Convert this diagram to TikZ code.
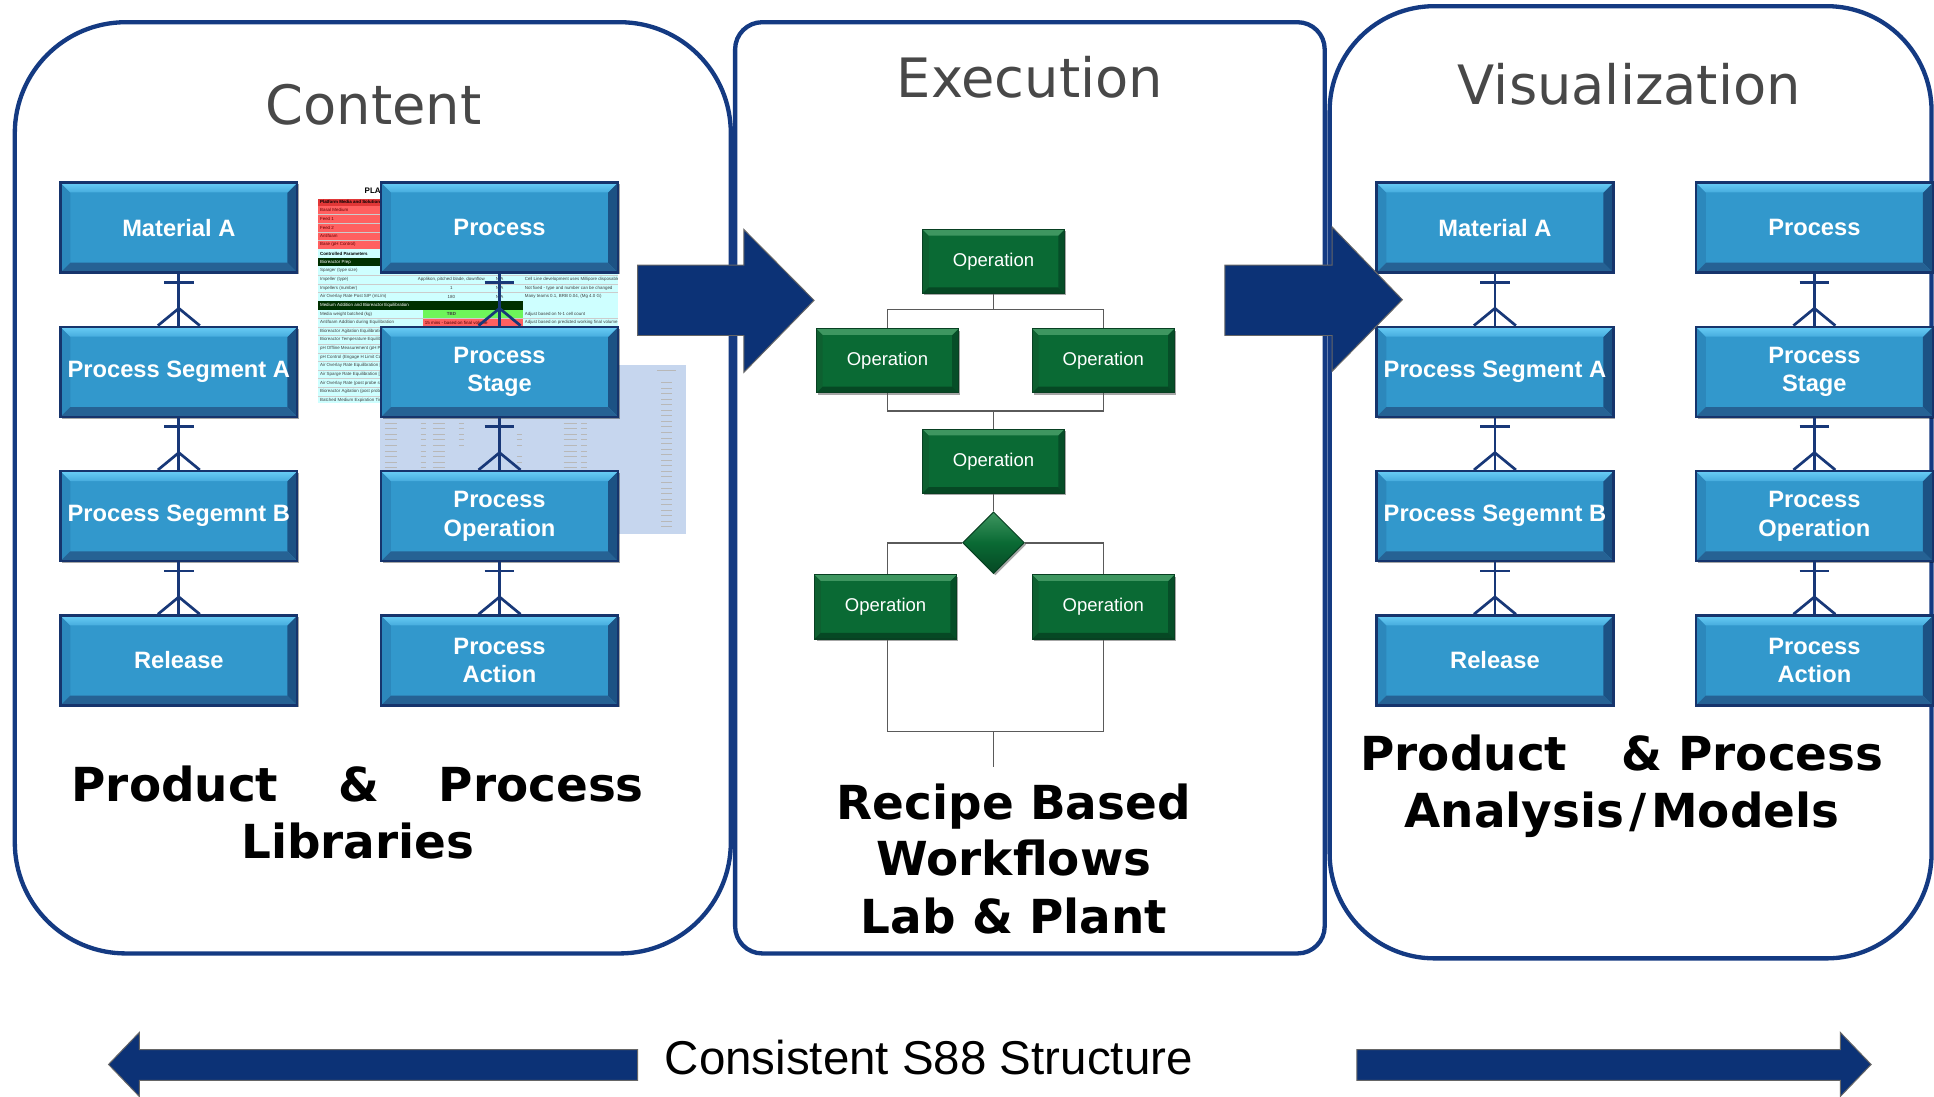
\documentclass[tikz,border=0pt]{standalone}
\usepackage{fontspec}
\newfontfamily\dvs{DejaVu Sans}
\newfontfamily\lib{Liberation Sans}
\usetikzlibrary{shapes.geometric,shadows,calc}
\definecolor{panelnavy}{RGB}{20,58,130}
\definecolor{arrownavy}{RGB}{12,50,118}
\definecolor{titlegray}{RGB}{72,72,72}
\definecolor{bmid}{RGB}{50,152,204}
\definecolor{btopa}{RGB}{105,205,245}
\definecolor{btopb}{RGB}{70,172,222}
\definecolor{bbot}{RGB}{38,98,148}
\definecolor{bleft}{RGB}{44,136,188}
\definecolor{bright}{RGB}{28,82,132}
\definecolor{bedge}{RGB}{22,52,108}
\definecolor{gmid}{RGB}{10,106,52}
\definecolor{gtop}{RGB}{62,150,96}
\definecolor{gbot}{RGB}{6,72,36}
\definecolor{gleft}{RGB}{14,96,48}
\definecolor{gright}{RGB}{6,78,40}
\definecolor{gedge}{RGB}{8,64,34}
\definecolor{connectgray}{RGB}{90,90,90}
\definecolor{ernavy}{RGB}{24,56,120}
\definecolor{shred}{RGB}{255,96,96}
\definecolor{shredh}{RGB}{225,55,55}
\definecolor{shcyan}{RGB}{206,255,255}
\definecolor{shdg}{RGB}{0,48,0}
\definecolor{shgreen}{RGB}{110,245,90}
\definecolor{shblue}{RGB}{198,214,238}

\newcommand\mybevel[5]{%
\path (path picture bounding box.north west) coordinate (bvNW)
      (path picture bounding box.north east) coordinate (bvNE)
      (path picture bounding box.south west) coordinate (bvSW)
      (path picture bounding box.south east) coordinate (bvSE);
\fill[#4] (bvNW) -- ([xshift=#1,yshift=-#1]bvNW) -- ([xshift=#1,yshift=#1]bvSW) -- (bvSW) -- cycle;
\fill[#5] (bvNE) -- ([xshift=-#1,yshift=-#1]bvNE) -- ([xshift=-#1,yshift=#1]bvSE) -- (bvSE) -- cycle;
\fill[#2] (bvNW) -- (bvNE) -- ([xshift=-#1,yshift=-#1]bvNE) -- ([xshift=#1,yshift=-#1]bvNW) -- cycle;
\fill[#3] (bvSW) -- (bvSE) -- ([xshift=-#1,yshift=#1]bvSE) -- ([xshift=#1,yshift=#1]bvSW) -- cycle;}

\newcommand\erlink[2]{%
\draw[erline] (#1.south) -- (#2.north);
\draw[erline] ([xshift=-12pt,yshift=-7pt]#1.south) -- ([xshift=12pt,yshift=-7pt]#1.south);
\draw[erline] ([xshift=-17pt]#2.north) -- ([yshift=14pt]#2.north) -- ([xshift=17pt]#2.north);}

\begin{document}
\begin{tikzpicture}[x=1pt,y=-1pt,
  panel/.style={draw=panelnavy,line width=3.5pt,fill=white},
  bluebox/.style={draw=bedge,line width=2pt,fill=bmid,minimum width=192pt,minimum height=73pt,
     inner sep=2pt,text=white,align=center,font=\lib\bfseries\fontsize{19.2}{23}\selectfont,
     drop shadow={shadow xshift=1.5pt,shadow yshift=-1.5pt,fill=black,opacity=0.35},
     path picture={\mybevel{8pt}{top color=btopa,bottom color=btopb}{bbot}{bleft}{bright}}},
  gbox/.style={draw=gedge,line width=1pt,fill=gmid,minimum width=115pt,minimum height=52pt,
     inner sep=2pt,text=white,font=\lib\fontsize{15}{18}\selectfont,
     drop shadow={shadow xshift=1.5pt,shadow yshift=-1.5pt,fill=black,opacity=0.35},
     path picture={\mybevel{5pt}{gtop}{gbot}{gleft}{gright}}},
  gdia/.style={diamond,draw=gedge,line width=0.8pt,top color=gtop,bottom color=gbot,middle color=gmid,
     minimum width=50pt,minimum height=50pt,inner sep=0pt,
     drop shadow={shadow xshift=1.5pt,shadow yshift=-1.5pt,fill=black,opacity=0.35}},
  conn/.style={draw=connectgray,line width=1.3pt},
  erline/.style={draw=ernavy,line width=2.2pt},
  bigarrow/.style={fill=arrownavy,draw=black!60,line width=0.8pt,line join=miter},
  titletxt/.style={anchor=base,text=titlegray,font=\dvs\fontsize{44}{50}\selectfont,inner sep=0pt},
  boldtxt/.style={anchor=base,text=black,font=\dvs\bfseries\fontsize{38}{46}\selectfont,inner sep=0pt},
  sheettxt/.style={anchor=west,inner sep=0.3pt,text=black!75,font=\lib\fontsize{3.6}{4}\selectfont},
  sheetmark/.style={draw=black!28,line width=0.5pt}
]
\useasboundingbox (0,0) rectangle (1568,888.6);
\fill[white] (0,0) rectangle (1568,888.6);

% ---------- panels ----------
\draw[panel,rounded corners=90pt] (12,18) rectangle (592.5,773);
\draw[panel,rounded corners=22pt] (596,18) rectangle (1074,773);
\draw[panel,rounded corners=85pt] (1078,5) rectangle (1566,777);

% ---------- titles ----------
\node[titletxt] (tcontent) at (303,101) {Content};
\node[titletxt] (texec) at (835,79) {Execution};
\node[titletxt] (tvis) at (1321,85) {Visualization};

% ---------- spreadsheet thumbnail 1 ----------
\begin{scope}
\clip (258,148.5) rectangle (501,327);
\fill[white] (258,148.5) rectangle (503,161);
\fill[shredh] (258,161) rectangle (503,167);
\fill[shred] (258,167) rectangle (503,202);
\fill[shcyan] (258,202) rectangle (503,209);
\fill[shdg] (258,209) rectangle (503,216);
\fill[shcyan] (258,216) rectangle (503,244);
\fill[shdg] (258,244) rectangle (424,251);
\fill[shcyan] (424,244) rectangle (503,251);
\fill[shcyan] (258,251) rectangle (503,327);
\fill[shgreen] (343,251) rectangle (424,258);
\fill[shred] (343,258) rectangle (424,265);
\foreach \yy in {174,181,188,195,223,230,237,258,265,272,279,286,293,300,307,314,321}
  \draw[black!20,line width=0.3pt] (258,\yy) -- (503,\yy);
\node[anchor=west,inner sep=0pt,font=\lib\bfseries\fontsize{6.5}{7}\selectfont] (shtitle) at (295.5,155) {PLA};
\node[sheettxt,text=black,font=\lib\bfseries\fontsize{3.6}{4}\selectfont] (shh1) at (259,164) {Platform Media and Solutions};
\foreach \yy/\txt [count=\k] in {170.5/Basal Medium,177.5/Feed 1,184.5/Feed 2,191.5/Antifoam,198.5/{Base (pH Control)}}
  \node[sheettxt,text=red!40!black] (shr\k) at (259,\yy) {\txt};
\node[sheettxt,text=black,font=\lib\bfseries\fontsize{3.6}{4}\selectfont] (shh2) at (259,205.5) {Controlled Parameters};
\node[sheettxt,text=white] (shh3) at (259,212.5) {Bioreactor Prep};
\foreach \yy/\txt [count=\k] in {219.5/{Sparger (type size)},226.5/{Impeller (type)},233.5/{Impellers (number)},240.5/{Air Overlay Rate Post SIP (mL/m)}}
  \node[sheettxt] (shc\k) at (259,\yy) {\txt};
\node[sheettxt,anchor=center] (shv1) at (366,226.5) {Applikon, pitched blade, downflow};
\node[sheettxt,anchor=center] (shv2) at (366,233.5) {1};
\node[sheettxt,anchor=center] (shv3) at (366,240.5) {180};
\node[sheettxt,anchor=center] (shu1) at (405,226.5) {N/A};
\node[sheettxt,anchor=center] (shu2) at (405,233.5) {N/A};
\node[sheettxt,anchor=center] (shu3) at (405,240.5) {N/A};
\node[sheettxt] (shn1) at (425,226.5) {Cell Line development uses Millipore disposable vessels};
\node[sheettxt] (shn2) at (425,233.5) {Not fixed - type and number can be changed};
\node[sheettxt] (shn3) at (425,240.5) {Many teams 0.1, BRB 0.04, (Mg 4.0 G)};
\node[sheettxt,text=white] (shh4) at (259,247.5) {Medium Addition and Bioreactor Equilibration};
\node[sheettxt] (shm1) at (259,254.5) {Media weight batched (kg)};
\node[sheettxt,anchor=center,font=\lib\bfseries\fontsize{3.6}{4}\selectfont] (shm2) at (366,254.5) {TBD};
\node[sheettxt] (shm3) at (425,254.5) {Adjust based on N-1 cell count};
\node[sheettxt] (sha1) at (259,261.5) {Antifoam Addition during Equilibration};
\node[sheettxt,text=red!30!black] (sha2) at (344,261.5) {15 mins - based on final volume};
\node[sheettxt] (sha3) at (425,261.5) {Adjust based on predicted working final volume};
\foreach \yy/\txt [count=\k] in {268.5/{Bioreactor Agitation Equilibration (rpm)},275.5/{Bioreactor Temperature Equilibration},282.5/{pH Offline Measurement (pH Probe S},289.5/{pH Control (Engage H Limit Control)},296.5/{Air Overlay Rate Equilibration [DO p},303.5/{Air Sparge Rate Equilibration [DO p},310.5/{Air Overlay Rate (post probe standard},317.5/{Bioreactor Agitation (post probe stan},324.5/{Batched Medium Expiration Time (p}}
  \node[sheettxt] (shl\k) at (259,\yy) {\txt};
\end{scope}

% ---------- spreadsheet thumbnail 2 ----------
\fill[shblue] (308,296) rectangle (556,433);
\foreach \yy in {343,347.5,352,356.5,361,365.5,370,374.5,379} {
  \draw[sheetmark] (312,\yy) -- (322,\yy);
  \draw[sheetmark] (341,\yy) -- (345,\yy);
  \draw[sheetmark] (351,\yy) -- (361,\yy);
  \draw[sheetmark] (457,\yy) -- (468,\yy);
  \draw[sheetmark] (471,\yy) -- (476,\yy);
}
\foreach \yy in {343,347.5,352,356.5,361} \draw[sheetmark] (372,\yy) -- (376,\yy);
\foreach \yy in {352,356.5,361,370,374.5} \draw[sheetmark] (419,\yy) -- (423,\yy);
\draw[sheetmark] (533,300) -- (548,300);
\foreach \yy in {310,314.5,...,430} \draw[sheetmark] (536,\yy) -- (545,\yy);

% ---------- content boxes ----------
\node[bluebox] (matA) at (145,184.5) {Material A};
\node[bluebox] (segA) at (145,301.5) {Process Segment A};
\node[bluebox] (segB) at (145,418.5) {Process Segemnt B};
\node[bluebox] (rel) at (145,535.5) {Release};
\node[bluebox] (proc) at (405,184.5) {Process};
\node[bluebox] (stage) at (405,301.5) {Process\\Stage};
\node[bluebox] (oper) at (405,418.5) {Process\\Operation};
\node[bluebox] (act) at (405,535.5) {Process\\Action};
\erlink{matA}{segA}\erlink{segA}{segB}\erlink{segB}{rel}
\erlink{proc}{stage}\erlink{stage}{oper}\erlink{oper}{act}

% ---------- visualization boxes ----------
\node[bluebox] (vmatA) at (1212,184.5) {Material A};
\node[bluebox] (vsegA) at (1212,301.5) {Process Segment A};
\node[bluebox] (vsegB) at (1212,418.5) {Process Segemnt B};
\node[bluebox] (vrel) at (1212,535.5) {Release};
\node[bluebox] (vproc) at (1471,184.5) {Process};
\node[bluebox] (vstage) at (1471,301.5) {Process\\Stage};
\node[bluebox] (voper) at (1471,418.5) {Process\\Operation};
\node[bluebox] (vact) at (1471,535.5) {Process\\Action};
\erlink{vmatA}{vsegA}\erlink{vsegA}{vsegB}\erlink{vsegB}{vrel}
\erlink{vproc}{vstage}\erlink{vstage}{voper}\erlink{voper}{vact}

% ---------- execution workflow ----------
\node[gbox] (g1) at (805.5,212) {Operation};
\node[gbox] (g2l) at (719.5,292.5) {Operation};
\node[gbox] (g2r) at (894.5,292.5) {Operation};
\node[gbox] (g3) at (805.5,374) {Operation};
\node[gdia] (dia) at (805.5,440) {};
\node[gbox] (g4l) at (718,492) {Operation};
\node[gbox] (g4r) at (894.5,492) {Operation};
\coordinate (j1) at (805.5,251);
\coordinate (j2) at (805.5,333);
\coordinate (j4) at (805.5,593);
\coordinate (jend) at (805.5,622);
\draw[conn] (g1.south) -- (j1);
\draw[conn] (j1) -| (g2l.north);
\draw[conn] (j1) -| (g2r.north);
\draw[conn] (g2l.south) |- (j2) -| (g2r.south);
\draw[conn] (j2) -- (g3.north);
\draw[conn] (g3.south) -- (dia.north);
\draw[conn] (dia.west) -| (g2l.south |- g4l.north);
\draw[conn] (dia.east) -| (g4r.north);
\draw[conn] (g2l.south |- g4l.south) |- (j4) -| (g4r.south);
\draw[conn] (j4) -- (jend);

% ---------- block arrows ----------
\draw[bigarrow] (517,215) -- (603,215) -- (603,186) -- (660,243.5) -- (603,302) -- (603,272) -- (517,272) -- cycle;
\draw[bigarrow] (993,215) -- (1080,215) -- (1080,184) -- (1137,243) -- (1080,301) -- (1080,272) -- (993,272) -- cycle;
\draw[bigarrow] (517,851) -- (113,851) -- (113,837) -- (88,863) -- (113,889) -- (113,876) -- (517,876) -- cycle;
\draw[bigarrow] (1100,851) -- (1492,851) -- (1492,837) -- (1517,863) -- (1492,889) -- (1492,876) -- (1100,876) -- cycle;

% ---------- captions ----------
\node[boldtxt] (lib1) at (290,650) {\makebox[464pt]{Product\hfill\&\hfill Process}};
\node[boldtxt] (lib2) at (290,696) {Libraries};
\node[boldtxt] (rec1) at (822,664) {Recipe Based};
\node[boldtxt] (rec2) at (822,710) {Workflows};
\node[boldtxt] (rec3) at (822,757) {Lab \& Plant};
\node[boldtxt] (ana1) at (1315,625) {\makebox[424pt]{Product\hfill\& Process}};
\node[boldtxt] (ana2) at (1315,671) {Analysis\kern4pt/\kern4pt Models};
\node[anchor=base,inner sep=0pt,font=\lib\fontsize{38.5}{44}\selectfont] (s88) at (753,871) {Consistent S88 Structure};
\end{tikzpicture}
\end{document}
